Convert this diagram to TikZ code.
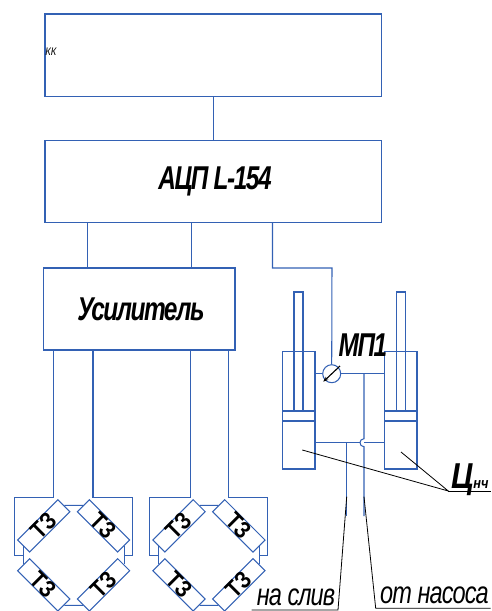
\documentclass[tikz,border=0pt]{standalone}
\usepackage{fontspec}
\usetikzlibrary{arrows.meta}
\newfontfamily\lab[FakeStretch=0.74,LetterSpace=-4.5]{Liberation Sans}
\newfontfamily\labt[FakeStretch=0.76,LetterSpace=-3]{Liberation Sans}
\newfontfamily\labr[FakeStretch=0.85]{Liberation Sans}
\definecolor{wirec}{HTML}{3361B4}
\tikzset{
  wire/.style={draw=wirec,line width=1.05pt},
  blockbox/.style={wire,inner sep=0,anchor=center},
  tz/.style={blockbox,fill=white,minimum width=57pt,minimum height=16.5pt,font=\labr\bfseries\fontsize{24}{24}\selectfont},
  leader/.style={draw=black,line width=0.8pt},
  biglab/.style={inner sep=0,font=\lab\bfseries\itshape\fontsize{33}{33}\selectfont},
  thinlab/.style={inner sep=0,font=\labt\itshape\fontsize{31}{31}\selectfont},
}
\begin{document}
\begin{tikzpicture}[x=1pt,y=-1pt]
\useasboundingbox (0,0) rectangle (491,611);
% blocks
\node[blockbox,minimum width=336.5pt,minimum height=82.5pt] (pc) at (213.25,55.25) {};
\node[inner sep=0,font=\labr\itshape\fontsize{11}{11}\selectfont] (kk) at (51,51.5) {КК};
\node[blockbox,minimum width=336.5pt,minimum height=82pt] (adc) at (213.25,181.5) {};
\node[biglab] (adct) at (215,181) {АЦП L-154};
\node[blockbox,minimum width=191.5pt,minimum height=82pt] (amp) at (139.25,309) {};
\node[biglab] (ampt) at (141,309) {Усилитель};
\draw[wire] (pc.south) -- (adc.north);
\coordinate (a1) at (87.5,0); \coordinate (a2) at (191.5,0); \coordinate (a3) at (272.5,0);
\draw[wire] (a1 |- adc.south) -- (a1 |- amp.north);
\draw[wire] (a2 |- adc.south) -- (a2 |- amp.north);
% cylinders
\node[blockbox,minimum width=32.5pt,minimum height=117.5pt] (cl) at (298.75,410.25) {};
\node[blockbox,minimum width=32.5pt,minimum height=117.5pt] (cr) at (400.75,410.25) {};
\node[blockbox,minimum width=32.5pt,minimum height=10pt] (pl) at (298.75,416) {};
\node[blockbox,minimum width=32.5pt,minimum height=10pt] (pr) at (400.75,416) {};
\node[blockbox,minimum width=9pt,minimum height=119pt] (rl) at (298.5,351.5) {};
\node[blockbox,minimum width=9pt,minimum height=119pt] (rr) at (401,351.5) {};
\node[wire,circle,inner sep=0,minimum size=18pt] (mano) at (331.7,373.7) {};
\draw[-{Stealth[length=5pt,width=4pt]},draw=black,line width=1.1pt] (340,366) -- (323.3,381.7);
\node[biglab] (mpt) at (363,345) {МП1};
% wires of the hydraulic part
\coordinate (w1) at (332,268);
\draw[wire] (a3 |- adc.south) -- (272.5,268) -- (w1) -- (mano.north);
\draw[wire] (cl.east |- mano) -- (mano.west);
\draw[wire] (mano.east) -- (cr.west |- mano);
\coordinate (d1) at (346.7,442.7); \coordinate (d1e) at (346.7,516);
\coordinate (d2) at (364,373.7); \coordinate (d2e) at (364,516);
\draw[wire] (cl.east |- d1) -- (359.7,442.7);
\draw[wire] (364,442.7) -- (cr.west |- d1);
\draw[wire] (d1) -- (d1e);
\draw[wire] (d2) -- (364,438.7) .. controls (358.7,438.7) and (358.7,446.7) .. (364,446.7) -- (d2e);
% leaders
\coordinate (c1) at (302.3,450); \coordinate (c2) at (401,452); \coordinate (c3) at (448.3,491); \coordinate (c4) at (490.7,491);
\draw[leader] (c1) -- (c3) -- (c2);
\draw[leader] (c3) -- (c4);
\node[biglab,font=\labr\bfseries\itshape\fontsize{36}{36}\selectfont] (ts) at (463,480) {Ц};
\node[inner sep=0,font=\labr\itshape\bfseries\fontsize{15}{15}\selectfont] (tn) at (481,485) {нч};
\coordinate (s1) at (346.7,496.7); \coordinate (s2) at (338,610); \coordinate (s3) at (251.7,610);
\draw[leader] (s1) -- (s2) -- (s3);
\coordinate (n1) at (364,496.7); \coordinate (n2) at (375.7,608.3); \coordinate (n3) at (490.7,608.3);
\draw[leader] (n1) -- (n2) -- (n3);
\node[thinlab] (t1) at (296,597) {на слив};
\node[thinlab] (t2) at (434.5,595) {от насоса};
% strain-gauge bridges
\foreach \p/\dx in {A/0,B/135.3} {
  \begin{scope}[shift={(\dx,0)}]
    \node[tz,rotate=45] (\p tl) at (43.75,525.85) {ТЗ};
    \node[tz,rotate=-45] (\p tr) at (103.55,525.85) {ТЗ};
    \node[tz,rotate=-45] (\p bl) at (43.75,584.85) {ТЗ};
    \node[tz,rotate=45] (\p br) at (103.55,584.85) {ТЗ};
    \draw[wire] (\p tl.east) -- (\p tr.west);
    \draw[wire] (\p bl.east) -- (\p br.west);
    \draw[wire] (\p tl.west) -- (\p bl.west);
    \draw[wire] (\p tr.east) -- (\p br.east);
  \end{scope}
}
\foreach \ka/\oa/\ia/\kb/\ob/\ib in {53.3/14.5/23.4/93/132.7/123.6,190.7/149.7/158.7/228.3/267.7/258.9} {
  \draw[wire] (\ka,0 |- amp.south) -- (\ka,497.7) -- (\oa,497.7) -- (\oa,555.3) -- (\ia,555.3);
  \draw[wire] (\kb,0 |- amp.south) -- (\kb,497.7) -- (\ob,497.7) -- (\ob,555.3) -- (\ib,555.3);
}
\end{tikzpicture}
\end{document}
